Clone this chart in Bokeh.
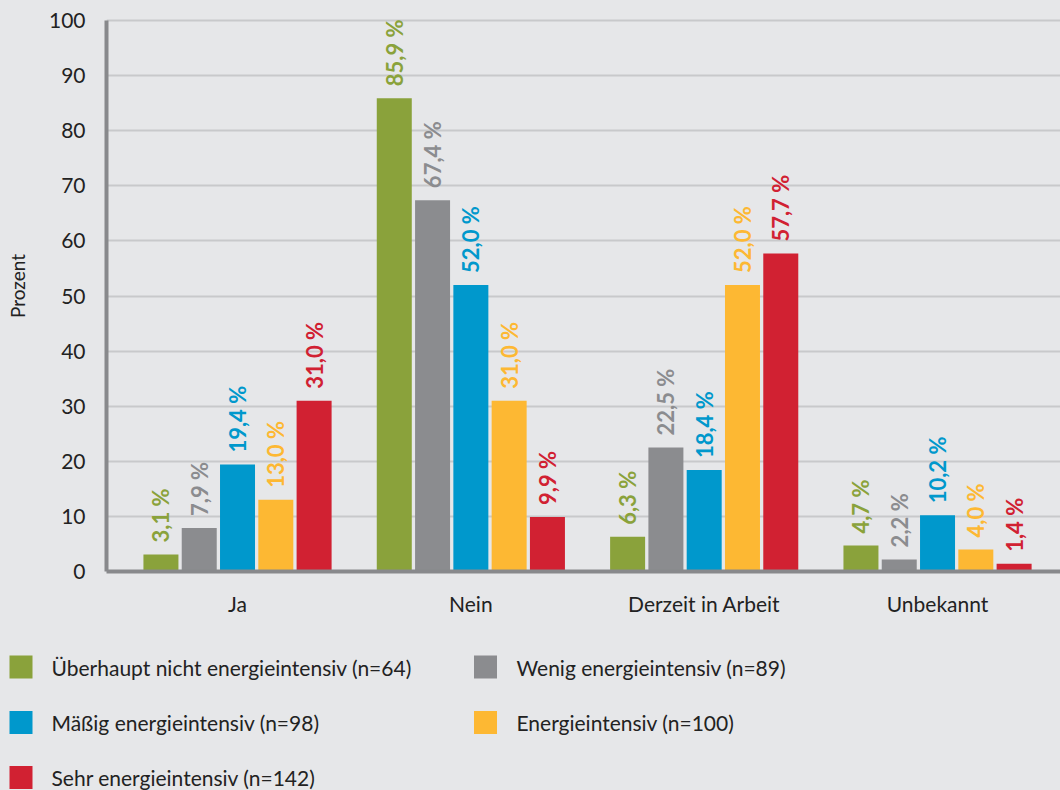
import math
from bokeh.plotting import figure
from bokeh.models import ColumnDataSource, Range1d, FixedTicker
from bokeh.layouts import column
from bokeh.transform import dodge
from bokeh.core.properties import value
from bokeh.embed import file_html
from bokeh.resources import INLINE

categories = ["Ja", "Nein", "Derzeit in Arbeit", "Unbekannt"]
series_names = [
    "Überhaupt nicht energieintensiv (n=64)",
    "Wenig energieintensiv (n=89)",
    "Mäßig energieintensiv (n=98)",
    "Energieintensiv (n=100)",
    "Sehr energieintensiv (n=142)",
]
ueberhaupt_nicht = [3.1, 85.9, 6.3, 4.7]
wenig = [7.9, 67.4, 22.5, 2.2]
maessig = [19.4, 52.0, 18.4, 10.2]
energieintensiv = [13.0, 31.0, 52.0, 4.0]
sehr = [31.0, 9.9, 57.7, 1.4]
series_values = [ueberhaupt_nicht, wenig, maessig, energieintensiv, sehr]
colors = ["#8aa23b", "#8b8c8f", "#0098cc", "#fdb833", "#d12132"]
y_ticks = list(range(0, 101, 10))

BG = "#e6e7e9"
FONT = "Lato"
W = 1060
MAIN_H = 628
LEG_H = 162

p = figure(width=W, height=MAIN_H, output_backend="svg", toolbar_location=None,
           x_range=Range1d(-0.5615, 3.527), y_range=Range1d(0, 103.63),
           min_border_left=106, min_border_right=0, min_border_top=0, min_border_bottom=57)
p.background_fill_color = BG
p.border_fill_color = BG
p.outline_line_color = None
p.frame_align = False

xs = list(range(len(categories)))
step = 0.1641
for j, (name, vals, col) in enumerate(zip(series_names, series_values, colors)):
    src = ColumnDataSource(dict(x=xs, top=vals,
                                lab=[("%.1f" % v).replace(".", ",") + " %" for v in vals]))
    off = (j - 2) * step
    p.vbar(x=dodge("x", off, range=p.x_range), top="top", bottom=0, width=0.15,
           source=src, fill_color=col, line_color=None)
    p.text(x=dodge("x", off, range=p.x_range), y="top", text="lab", source=src,
           angle=math.pi / 2, text_align="left", text_baseline="middle",
           text_color=col, text_font=value(FONT), text_font_style="bold",
           text_font_size="22px", y_offset=-12)

p.xgrid.grid_line_color = None
p.ygrid.grid_line_color = "#c8c9cb"
p.ygrid.grid_line_width = 2
p.ygrid.ticker = FixedTicker(ticks=y_ticks)

p.yaxis.ticker = FixedTicker(ticks=y_ticks)
p.yaxis.bounds = (0, 100)
p.yaxis.axis_line_color = "#88898c"
p.yaxis.axis_line_width = 4
p.yaxis.major_tick_line_color = None
p.yaxis.minor_tick_line_color = None
p.yaxis.major_label_text_font = FONT
p.yaxis.major_label_text_font_size = "21px"
p.yaxis.major_label_text_color = "#222222"
p.yaxis.major_label_standoff = 15
p.yaxis.axis_label = "Prozent"
p.yaxis.axis_label_text_font = FONT
p.yaxis.axis_label_text_font_size = "19px"
p.yaxis.axis_label_text_font_style = "normal"
p.yaxis.axis_label_text_color = "#222222"
p.yaxis.axis_label_standoff = 17

p.xaxis.ticker = FixedTicker(ticks=xs)
p.xaxis.major_label_overrides = {i: c for i, c in enumerate(categories)}
p.xaxis.axis_line_color = "#88898c"
p.xaxis.axis_line_width = 4
p.xaxis.major_tick_line_color = None
p.xaxis.minor_tick_line_color = None
p.xaxis.major_label_text_font = FONT
p.xaxis.major_label_text_font_size = "21px"
p.xaxis.major_label_text_color = "#222222"
p.xaxis.major_label_standoff = 13

# legend figure (pixel-like coordinates, y downward)
lg = figure(width=W, height=LEG_H, output_backend="svg", toolbar_location=None,
            x_axis_type=None, y_axis_type=None,
            x_range=Range1d(0, W), y_range=Range1d(MAIN_H + LEG_H, MAIN_H),
            min_border=0, min_border_left=0, min_border_right=0,
            min_border_top=0, min_border_bottom=0)
lg.background_fill_color = BG
lg.border_fill_color = BG
lg.outline_line_color = None
lg.grid.visible = False
lg.frame_align = False

col_x = [20.5, 485]
text_x = [51, 516]
row_y = [666.5, 722, 777]
n = len(series_names)
lsrc = ColumnDataSource(dict(
    x=[col_x[i % 2] for i in range(n)],
    y=[row_y[i // 2] for i in range(n)],
    tx=[text_x[i % 2] for i in range(n)],
    name=series_names, color=colors))
lg.rect(x="x", y="y", width=23, height=23, fill_color="color", line_color=None, source=lsrc)
lg.text(x="tx", y="y", text="name", source=lsrc, text_align="left", text_baseline="middle",
        text_font=value(FONT), text_font_size="21px", text_color="#222222")

layout = column(p, lg, spacing=0)
html = file_html(layout, INLINE)
html = html.replace("<head>", "<head><style>html,body{background:%s;}</style>" % BG, 1)
open("out.html", "w").write(html)
